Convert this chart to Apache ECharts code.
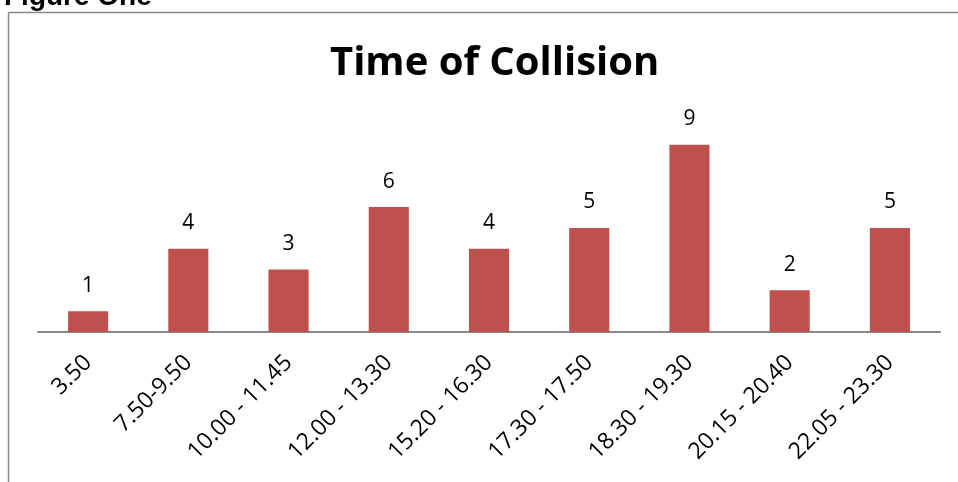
<!DOCTYPE html>
<html><head><meta charset="utf-8">
<script src="https://cdn.jsdelivr.net/npm/echarts@6/dist/echarts.min.js"></script>
<style>html,body{margin:0;padding:0;background:#fff}#c{width:958px;height:482px}</style>
</head><body><div id="c"></div>
<script>
const categories = ["3.50","7.50-9.50","10.00 - 11.45","12.00 - 13.30","15.20 - 16.30","17.30 - 17.50","18.30 - 19.30","20.15 - 20.40","22.05 - 23.30"];
const values = [1,4,3,6,4,5,9,2,5];
const chart = echarts.init(document.getElementById('c'));
chart.setOption({
  animation:false,
  backgroundColor:'#fff',
  title:{text:'Time of Collision',left:325,top:39,
    textStyle:{fontFamily:'Open Sans',fontWeight:'bold',fontSize:40,color:'#000'}},
  graphic:[
    {type:'text',left:4,top:-17,style:{text:'Figure One',font:'bold 28px "Liberation Sans"',fill:'#000'}},
    {type:'line',shape:{x1:8.5,y1:12.5,x2:958,y2:12.5},style:{stroke:'#888',lineWidth:1.5}},
    {type:'line',shape:{x1:8.5,y1:12.5,x2:8.5,y2:482},style:{stroke:'#888',lineWidth:1.5}}
  ],
  grid:{left:38,right:18,top:103,bottom:150,containLabel:false},
  xAxis:{type:'category',data:categories,
    axisLine:{lineStyle:{color:'#888',width:2}},axisTick:{show:false},
    axisLabel:{rotate:45,fontSize:23,fontFamily:'Open Sans',color:'#000',margin:27,interval:0}},
  yAxis:{type:'value',min:0,max:11,show:false,splitLine:{show:false}},
  series:[{type:'bar',data:values,barWidth:'40%',
    itemStyle:{color:'#C0504D'},
    label:{show:true,position:'top',distance:15,fontSize:21,fontFamily:'Open Sans',color:'#000'}}]
});
</script></body></html>
